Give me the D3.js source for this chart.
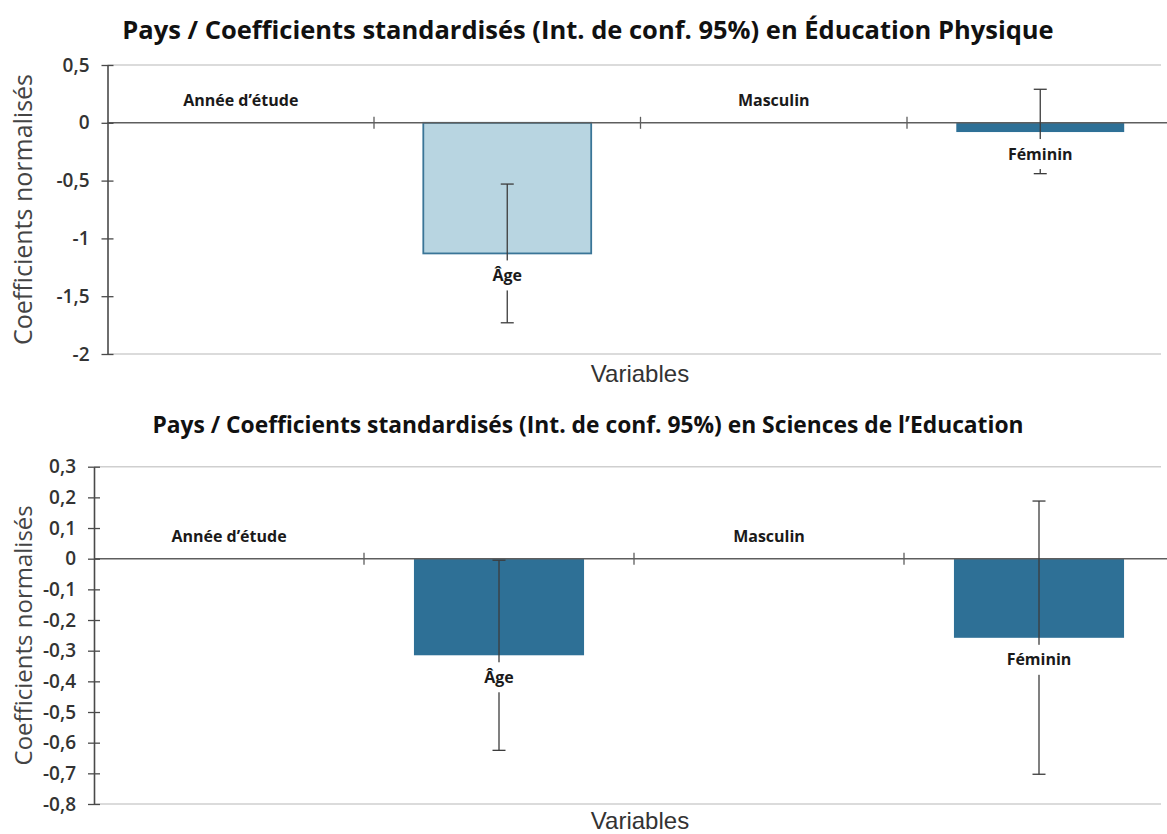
<!DOCTYPE html>
<html lang="fr">
<head>
<meta charset="utf-8">
<script src="https://cdn.jsdelivr.net/npm/d3@7"></script>
<style>
  html, body { margin: 0; padding: 0; background: #ffffff; }
  svg { display: block; }
</style>
</head>
<body>
<svg id="chart" width="1167" height="834"></svg>
<script>
// Variables explicatives (catégories de l'axe horizontal)
const categories = ["Année d’étude", "Âge", "Masculin", "Féminin"];

// Éducation Physique : coefficients et intervalles de confiance à 95 %
const epCoefficients = [0, -1.13, 0, -0.08];
const epCiLow  = [null, -1.73, null, -0.44];
const epCiHigh = [null, -0.53, null, 0.29];
const epTicks  = [-2, -1.5, -1, -0.5, 0, 0.5];

// Sciences de l'Education : coefficients et intervalles de confiance à 95 %
const seCoefficients = [0, -0.315, 0, -0.258];
const seCiLow  = [null, -0.625, null, -0.703];
const seCiHigh = [null, -0.005, null, 0.188];
const seTicks  = [-0.8, -0.7, -0.6, -0.5, -0.4, -0.3, -0.2, -0.1, 0, 0.1, 0.2, 0.3];

const titles = [
  "Pays / Coefficients standardisés (Int. de conf. 95%) en Éducation Physique",
  "Pays / Coefficients standardisés (Int. de conf. 95%) en Sciences de l’Education"
];
const yAxisTitle = "Coefficients normalisés";
const xAxisTitle = "Variables";

const frLocale = d3.formatLocale({ decimal: ",", thousands: " ", grouping: [3], currency: ["", " €"], minus: "-" });
const fmt = v => frLocale.format("~g")(+v.toFixed(2));

const DARK = "#2e7096";
const LIGHT = "#b8d5e1";

const svg = d3.select("#chart");

const panels = [
  {
    title: titles[0], titleY: 39, titleSize: 25.5,
    values: epCoefficients, low: epCiLow, high: epCiHigh, ticks: epTicks,
    domain: [-2, 0.5], top: 65, bottom: 354, left: 107.5, right: 1173.5,
    fills: [DARK, LIGHT, DARK, DARK], strokes: [null, "#3a7597", null, null],
    xTitleY: 382, yTitleSize: 25
  },
  {
    title: titles[1], titleY: 433, titleSize: 22.8,
    values: seCoefficients, low: seCiLow, high: seCiHigh, ticks: seTicks,
    domain: [-0.8, 0.3], top: 466.7, bottom: 804, left: 94, right: 1174,
    fills: [DARK, DARK, DARK, DARK], strokes: [null, null, null, null],
    xTitleY: 829, yTitleSize: 24
  }
];

panels.forEach(p => drawPanel(p));

function drawPanel(p) {
  const g = svg.append("g");
  const rows = categories.map((c, i) => ({ cat: c, v: p.values[i], lo: p.low[i], hi: p.high[i], i }));

  const x = d3.scaleBand().domain(categories).range([p.left, p.right]).paddingInner(0).paddingOuter(0);
  const y = d3.scaleLinear().domain(p.domain).range([p.bottom, p.top]);
  const y0 = y(0);
  const barW = x.bandwidth() * 0.63;
  const W = 1167;

  // Titre
  g.append("text")
    .attr("x", 588).attr("y", p.titleY)
    .attr("text-anchor", "middle")
    .attr("font-family", "'Open Sans', sans-serif")
    .attr("font-weight", 700)
    .attr("font-size", p.titleSize)
    .attr("fill", "#111")
    .text(p.title);

  // Bordures haute et basse de la zone de tracé
  g.selectAll("line.frame").data(p.domain).join("line")
    .attr("class", "frame")
    .attr("x1", p.left).attr("x2", W - 6)
    .attr("y1", d => y(d)).attr("y2", d => y(d))
    .attr("stroke", "#cfcfcf").attr("stroke-width", 1.6);

  // Barres
  g.selectAll("rect.bar").data(rows.filter(d => d.v !== 0)).join("rect")
    .attr("class", "bar")
    .attr("x", d => x(d.cat) + (x.bandwidth() - barW) / 2)
    .attr("width", barW)
    .attr("y", d => Math.min(y(d.v), y0))
    .attr("height", d => Math.abs(y(d.v) - y0))
    .attr("fill", d => p.fills[d.i])
    .attr("stroke", d => p.strokes[d.i] || "none")
    .attr("stroke-width", 1.8);

  // Ligne du zéro avec graduations entre catégories
  g.append("line")
    .attr("x1", p.left).attr("x2", W)
    .attr("y1", y0).attr("y2", y0)
    .attr("stroke", "#5e5e5e").attr("stroke-width", 1.5);
  g.selectAll("line.ctick").data(categories.slice(1)).join("line")
    .attr("class", "ctick")
    .attr("x1", d => x(d)).attr("x2", d => x(d))
    .attr("y1", y0 - 6).attr("y2", y0 + 6)
    .attr("stroke", "#5e5e5e").attr("stroke-width", 1.3);

  // Barres d'erreur (IC 95 %)
  const eb = g.selectAll("g.err").data(rows.filter(d => d.lo !== null)).join("g").attr("class", "err");
  const cx = d => x(d.cat) + x.bandwidth() / 2;
  eb.append("line")
    .attr("x1", cx).attr("x2", cx)
    .attr("y1", d => y(d.hi)).attr("y2", d => y(d.lo))
    .attr("stroke", "#3c3c3c").attr("stroke-width", 1.3);
  ["hi", "lo"].forEach(k => {
    eb.append("line")
      .attr("x1", d => cx(d) - 6.5).attr("x2", d => cx(d) + 6.5)
      .attr("y1", d => y(d[k])).attr("y2", d => y(d[k]))
      .attr("stroke", "#3c3c3c").attr("stroke-width", 1.3);
  });

  // Étiquettes de catégorie au bout des barres
  const lab = g.selectAll("g.lab").data(rows).join("g").attr("class", "lab")
    .attr("transform", d => `translate(${cx(d)},${d.v < 0 ? y(d.v) + 22 : y0 - 22})`);
  lab.append("text")
    .attr("text-anchor", "middle")
    .attr("dy", "0.35em")
    .attr("font-family", "'Open Sans', sans-serif")
    .attr("font-weight", 700)
    .attr("font-size", 16)
    .attr("fill", "#1a1a1a")
    .text(d => d.cat);
  lab.each(function () {
    const t = d3.select(this).select("text");
    const b = t.node().getBBox();
    d3.select(this).insert("rect", "text")
      .attr("x", b.x - 5).attr("y", -15)
      .attr("width", b.width + 10).attr("height", 30)
      .attr("fill", "#fff");
  });

  // Axe vertical
  const yAxis = d3.axisLeft(y).tickValues(p.ticks).tickFormat(fmt).tickSizeInner(6).tickSizeOuter(0).tickPadding(12);
  const ya = g.append("g").attr("transform", `translate(${p.left},0)`).call(yAxis);
  ya.select(".domain").attr("stroke", "#4a4a4a").attr("stroke-width", 1.6);
  ya.selectAll(".tick line").attr("x1", -6).attr("x2", 6).attr("stroke", "#4a4a4a").attr("stroke-width", 1.3);
  ya.selectAll(".tick text")
    .attr("font-family", "'Open Sans', sans-serif")
    .attr("font-weight", 600)
    .attr("font-size", 19)
    .attr("fill", "#333");

  // Titres des axes
  g.append("text")
    .attr("transform", `translate(32,${(p.top + p.bottom) / 2}) rotate(-90)`)
    .attr("text-anchor", "middle")
    .attr("font-family", "'Open Sans', sans-serif")
    .attr("font-size", p.yTitleSize)
    .attr("fill", "#444")
    .text(yAxisTitle);
  g.append("text")
    .attr("x", 640).attr("y", p.xTitleY)
    .attr("text-anchor", "middle")
    .attr("font-family", "'Liberation Sans', Arial, sans-serif")
    .attr("font-size", 24)
    .attr("fill", "#333")
    .text(xAxisTitle);
}
</script>
</body>
</html>
